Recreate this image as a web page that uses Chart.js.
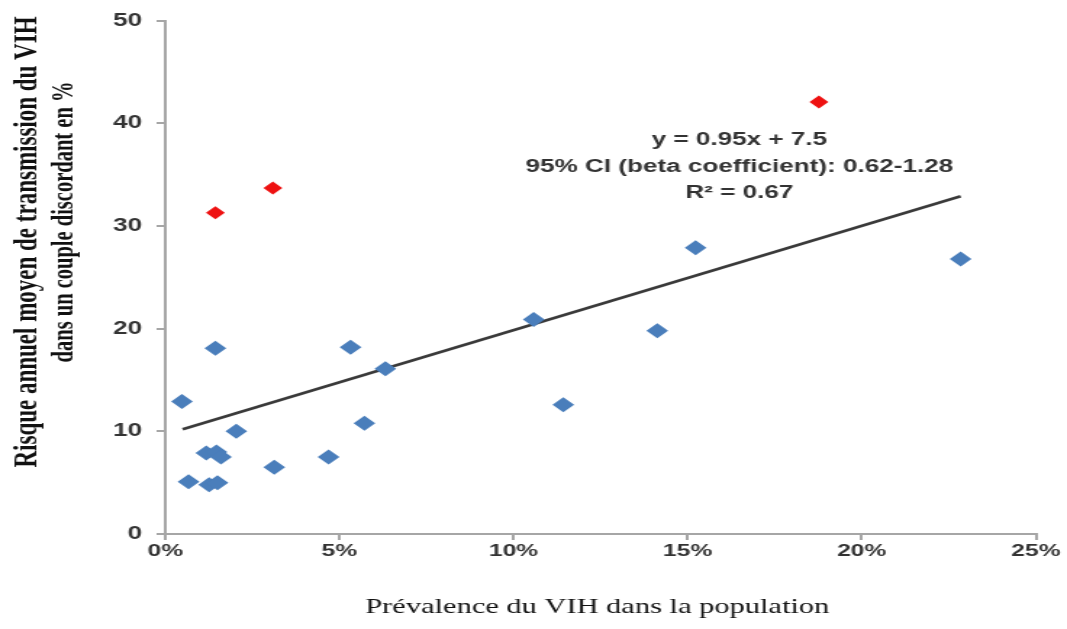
<!DOCTYPE html>
<html>
<head>
<meta charset="utf-8">
<script src="https://cdn.jsdelivr.net/npm/chart.js@4.4.1/dist/chart.umd.min.js"></script>
<style>
  html, body { margin: 0; padding: 0; background: #fff; overflow: hidden; }
  #wrap { width: 736px; height: 629px; transform: scaleX(1.4497); transform-origin: 0 0; }
</style>
</head>
<body>
<div id="wrap"><canvas id="chart" width="736" height="629"></canvas></div>
<script>
// prevalence (%) and annual transmission risk (%)
const blueX = [0.48, 0.67, 1.18, 1.26, 1.47, 1.5, 1.6, 1.44, 2.04, 3.13, 4.69, 5.32, 5.72, 6.32, 10.58, 11.43, 14.13, 15.23, 22.84];
const blueY = [12.9, 5.1, 7.9, 4.8, 8.0, 5.0, 7.5, 18.1, 10.0, 6.5, 7.5, 18.2, 10.8, 16.1, 20.9, 12.6, 19.8, 27.9, 26.8];
const redX = [1.44, 3.09, 18.77];
const redY = [31.3, 33.7, 42.1];
const trendX = [0.5, 22.84];
const trendY = [10.2, 32.9];
const xTicks = [0, 5, 10, 15, 20, 25];
const yTicks = [0, 10, 20, 30, 40, 50];
const equationLines = ['y = 0.95x + 7.5', '95% CI (beta coefficient): 0.62-1.28', 'R\u00b2 = 0.67'];
const yTitleLines = ['Risque annuel moyen de transmission du VIH', 'dans un couple discordant en %'];
const xTitle = 'Pr\u00e9valence du VIH dans la population';

const toPoints = (xs, ys) => xs.map((x, i) => ({ x: x, y: ys[i] }));

const textPlugin = {
  id: 'texts',
  afterDraw(chart) {
    const ctx = chart.ctx;
    ctx.save();
    // regression equation
    ctx.fillStyle = '#333';
    ctx.font = 'bold 18px "Liberation Sans", Arial, sans-serif';
    ctx.textAlign = 'center';
    ctx.textBaseline = 'middle';
    const eqY = [140, 167, 193];
    equationLines.forEach((t, i) => ctx.fillText(t, 510, eqY[i]));

    // x title
    ctx.fillStyle = '#111';
    ctx.font = '21px "Liberation Serif", "Times New Roman", serif';
    ctx.fillText(xTitle, 412, 607);

    // y title, two rotated lines
    const sizes = [23, 20.5];
    const pos = [[19.5, 242], [45, 222]];
    yTitleLines.forEach((t, i) => {
      ctx.save();
      ctx.font = 'bold ' + sizes[i] + 'px "Liberation Serif", "Times New Roman", serif';
      ctx.translate(pos[i][0], pos[i][1]);
      ctx.rotate(-Math.PI / 2);
      ctx.fillText(t, 0, 0);
      ctx.restore();
    });
    ctx.restore();
  }
};

const axisColor = '#a6a6a6';
const tickFont = { family: '"Liberation Sans", Arial, sans-serif', size: 18, weight: 'bold' };

new Chart(document.getElementById('chart'), {
  type: 'scatter',
  data: {
    datasets: [
      {
        data: toPoints(blueX, blueY),
        pointStyle: 'rectRot',
        pointRadius: 7.5,
        backgroundColor: '#4a7ebb',
        borderColor: '#4a7ebb',
        borderWidth: 0
      },
      {
        data: toPoints(redX, redY),
        pointStyle: 'rectRot',
        pointRadius: 6.5,
        backgroundColor: '#ee1111',
        borderColor: '#ee1111',
        borderWidth: 0
      },
      {
        type: 'line',
        data: toPoints(trendX, trendY),
        borderColor: '#3a3a3a',
        borderWidth: 2.6,
        pointRadius: 0,
        fill: false
      }
    ]
  },
  options: {
    responsive: false,
    animation: false,
    devicePixelRatio: 1,
    layout: { padding: { left: 0, right: 21.5, top: 20, bottom: 0 } },
    plugins: { legend: { display: false }, tooltip: { enabled: false } },
    scales: {
      x: {
        type: 'linear',
        min: 0,
        max: 25,
        afterFit: (s) => { s.height = 95; },
        afterBuildTicks: (s) => { s.ticks = xTicks.map(v => ({ value: v })); },
        grid: { drawOnChartArea: false, tickLength: 6, color: axisColor, lineWidth: 2 },
        border: { color: axisColor, width: 2 },
        ticks: { color: '#333', font: { ...tickFont, size: 17 }, padding: 1, callback: v => v + '%' }
      },
      y: {
        min: 0,
        max: 50,
        afterFit: (s) => { s.width = 114; },
        afterBuildTicks: (s) => { s.ticks = yTicks.map(v => ({ value: v })); },
        grid: { drawOnChartArea: false, tickLength: 6, color: axisColor, lineWidth: 2 },
        border: { color: axisColor, width: 2 },
        ticks: { color: '#333', font: tickFont, padding: 10 }
      }
    }
  },
  plugins: [textPlugin]
});
</script>
</body>
</html>
